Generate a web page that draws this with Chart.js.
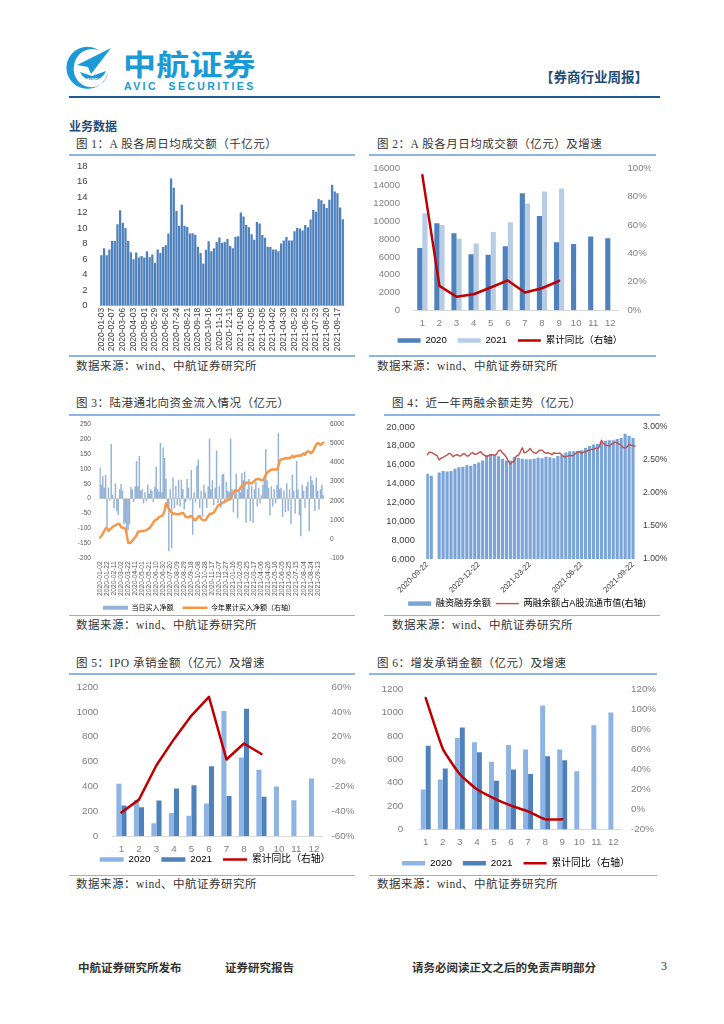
<!DOCTYPE html>
<html lang="zh">
<head>
<meta charset="utf-8">
<title>券商行业周报</title>
<style>
  html, body { margin: 0; padding: 0; background: #fff; }
  #page { position: relative; width: 724px; height: 1024px; overflow: hidden; background: #fff; }
  canvas { position: absolute; }
  .t { position: absolute; white-space: nowrap; line-height: 1; transform: translateY(-50%);
       font-family: 'Liberation Serif', 'Noto Sans CJK SC', serif; color: #333; }
  .title { font-size: 11.5px; letter-spacing: 0.5px; }
  .src { font-size: 11.5px; letter-spacing: 0.5px; }
  .foot { font-family: 'Noto Sans CJK SC', sans-serif; font-weight: 700; font-size: 11.5px; color: #333; }
  .rule { position: absolute; height: 1.5px; background: #8db4e2; }
</style>
</head>
<body>
<div id="page">
  <svg style="position:absolute;left:66px;top:46px" width="48" height="46" viewBox="66 46 48 46">
    <path fill="#1a9ad6" d="M100 51 A21 21 0 1 0 108 72 A17 17 0 0 1 76 78 A17 17 0 0 1 74 66 A18 18 0 0 1 100 51 Z"/>
    <path fill="#1a9ad6" d="M111 48 L77 65 L88 67 L91 74 Z"/>
    <path fill="#1a9ad6" d="M80 72 A14 14 0 0 0 106 71 L92 76 Z"/>
    <text x="92" y="82" text-anchor="middle" font-family="Liberation Sans" font-size="5" font-weight="700" fill="#fff">AVIC</text>
  </svg>
  <div class="t" style="left:123px;top:64px;font-family:'Noto Sans CJK SC';font-weight:700;font-size:33px;color:#1a9ad6;letter-spacing:0.2px;transform:translateY(-50%) scaleY(0.88)">中航证券</div>
  <div class="t" style="left:124px;top:86px;font-family:'Liberation Sans';font-weight:700;font-size:10.5px;color:#1a9ad6;letter-spacing:2.4px">AVIC&nbsp; SECURITIES</div>
  <div class="t" style="left:540px;top:77px;font-family:'Noto Sans CJK SC';font-weight:700;font-size:13.5px;color:#1f4e79">【券商行业周报】</div>
  <div style="position:absolute;left:69px;top:96px;width:591px;height:1.5px;background:#1f5a96"></div>
  <div class="t" style="left:69px;top:126px;font-family:'Noto Sans CJK SC';font-weight:700;font-size:12px;color:#1f4e79">业务数据</div>

  <div class="t title" style="left:76px;top:145px">图 1：A 股各周日均成交额（千亿元）</div>
  <div class="rule" style="left:69px;top:154px;width:286px"></div>
  <div class="rule" style="left:69px;top:355px;width:286px"></div>
  <div class="t src" style="left:76px;top:366.5px">数据来源：wind、中航证券研究所</div>

  <div class="t title" style="left:377px;top:145px">图 2：A 股各月日均成交额（亿元）及增速</div>
  <div class="rule" style="left:369px;top:154px;width:287px"></div>
  <div class="rule" style="left:369px;top:355px;width:287px"></div>
  <div class="t src" style="left:377px;top:366.5px">数据来源：wind、中航证券研究所</div>

  <div class="t title" style="left:76px;top:404px">图 3：陆港通北向资金流入情况（亿元）</div>
  <div class="rule" style="left:69px;top:414px;width:286px"></div>
  <div class="rule" style="left:69px;top:614.5px;width:286px"></div>
  <div class="t src" style="left:76px;top:625.5px">数据来源：wind、中航证券研究所</div>

  <div class="t title" style="left:392px;top:404px">图 4：近一年两融余额走势（亿元）</div>
  <div class="rule" style="left:384px;top:414px;width:276px"></div>
  <div class="rule" style="left:384px;top:614.5px;width:276px"></div>
  <div class="t src" style="left:392px;top:625.5px">数据来源：wind、中航证券研究所</div>

  <div class="t title" style="left:76px;top:664px">图 5：IPO 承销金额（亿元）及增速</div>
  <div class="rule" style="left:69px;top:673px;width:286px"></div>
  <div class="rule" style="left:69px;top:874.5px;width:286px"></div>
  <div class="t src" style="left:76px;top:885px">数据来源：wind、中航证券研究所</div>

  <div class="t title" style="left:377px;top:664px">图 6：增发承销金额（亿元）及增速</div>
  <div class="rule" style="left:369px;top:673px;width:288px"></div>
  <div class="rule" style="left:369px;top:874.5px;width:288px"></div>
  <div class="t src" style="left:377px;top:885px">数据来源：wind、中航证券研究所</div>

  <div class="t foot" style="left:78px;top:968px">中航证券研究所发布</div>
  <div class="t foot" style="left:225px;top:968px">证券研究报告</div>
  <div class="t foot" style="left:412px;top:968px">请务必阅读正文之后的免责声明部分</div>
  <div class="t" style="left:661px;top:966px;font-size:12px">3</div>

  <canvas id="c1"></canvas><canvas id="c2"></canvas><canvas id="c3"></canvas>
  <canvas id="c4"></canvas><canvas id="c5"></canvas><canvas id="c6"></canvas>
</div>

<script src="https://cdn.jsdelivr.net/npm/chart.js@4/dist/chart.umd.min.js"></script>
<script>
// --- Chart data ---
const months = ['1', '2', '3', '4', '5', '6', '7', '8', '9', '10', '11', '12'];

const weeklyTicks = ['2020-01-03', '2020-02-07', '2020-03-06', '2020-04-03', '2020-05-01', '2020-05-29',
    '2020-06-26', '2020-07-24', '2020-08-21', '2020-09-18', '2020-10-16', '2020-11-13', '2020-12-11',
    '2021-01-08', '2021-02-05', '2021-03-05', '2021-04-02', '2021-04-30', '2021-05-28', '2021-06-25',
    '2021-07-23', '2021-08-20', '2021-09-17'];
const weeklyTurnover = [6.5, 7.4, 6.5, 7.25, 8.35, 8.35, 10.5, 12.3, 10.7, 10, 8.35, 6.9, 6.0, 6.85, 6.2, 6.4,
    6.2, 7.0, 6.25, 6.6, 5.5, 7.25, 6.8, 7.55, 7.8, 9.3, 16.4, 15.2, 12.2, 10.3, 13, 10.3, 10.15, 9.3, 9.35,
    9.15, 7.6, 6.8, 5.45, 7.2, 8.3, 7.0, 7.4, 8.2, 8.8, 8.1, 8.2, 8.6, 7.7, 7.4, 8.85, 8.95, 12.0, 11.5, 10.4,
    10.1, 9.2, 8.5, 10.8, 10.6, 9.1, 8.75, 7.6, 7.55, 7.25, 7.25, 7.0, 8.0, 8.4, 8.85, 8.4, 8.4, 9.6, 10.0,
    9.95, 9.7, 10.4, 10.1, 11.1, 12.35, 12.1, 13.75, 13.6, 13.1, 12.6, 13.65, 15.6, 14.7, 14.5, 12.65, 11.15];

const monthly2020 = [7000, 9800, 8650, 6300, 6250, 7200, 13150, 10600, 7650, 7450, 8300, 8100];
const monthly2021 = [10900, 9600, 8050, 7500, 8800, 9900, 12000, 13350, 13700];
const monthlyGrowth = [95, 17.2, 9.5, 11.3, 16, 21, 12.5, 15.5, 20.7];

const northboundTicks = ['2020-01-02', '2020-01-22', '2020-02-11', '2020-03-02', '2020-03-22', '2020-04-11',
    '2020-05-01', '2020-05-21', '2020-06-10', '2020-06-30', '2020-07-20', '2020-08-09', '2020-08-29',
    '2020-09-18', '2020-10-08', '2020-10-28', '2020-11-17', '2020-12-07', '2020-12-27', '2021-01-16',
    '2021-02-05', '2021-02-25', '2021-03-17', '2021-04-06', '2021-04-26', '2021-05-16', '2021-06-05',
    '2021-06-25', '2021-07-15', '2021-08-04', '2021-08-24', '2021-09-13'];
const northboundDaily = [103, 45, 75, 35, 78, -100, 36, -5, 182, 12, -30, 50, -40, -55, 30, 48, 25, -85, -80, -115,
    -105, -85, 38, 30, -10, 40, 125, 40, 142, 25, 30, -15, 20, -8, 46, 15, 30, 25, -10, 38,
    105, 30, 22, 185, 20, 170, 135, 65, -20, -175, 30, -165, 70, -30, 42, -20, 62, -25, 62, 30,
    -35, -10, 65, 35, -5, 95, -120, 20, -12, 110, 130, -30, 25, -60, 45, 20, -30, 40, 200, 30,
    60, -20, 35, 160, -15, 40, -30, 80, 82, -15, 55, 25, 20, 200, 30, -45, 20, 82, -65, 25,
    20, 85, 60, 90, -80, 30, 65, -75, 40, -80, 30, 55, -25, 35, -15, 10, 45, 60, 165, 60,
    35, -55, 40, -25, 30, -15, 45, 218, 30, 35, -60, 25, -45, 50, -40, 30, -85, 80, 25, -50,
    125, 30, -55, -125, 45, 25, -30, 40, 55, -108, 75, 60, 45, -40, 70, 25, -35, 30, 45, 10];
const northboundTotal = [80, 150, 290, 420, 560, 580, 430, 500, 560, 640, 690, 720, 760, 800, 780, 620, 590, 600, 540, 260,
    -190, -210, -170, -80, 10, 90, 200, 385, 400, 410, 420, 435, 440, 470, 520, 560, 640, 750, 880, 985,
    1020, 1050, 1150, 1180, 1220, 1280, 1500, 1870, 1700, 1580, 1480, 1390, 1320, 1340, 1320, 1290, 1310, 1300, 1370, 1370,
    1290, 1150, 1150, 1130, 1190, 1200, 1120, 1000, 985, 1080, 1170, 1200, 1060, 1000, 990, 985, 1080, 1200, 1320, 1300,
    1350, 1380, 1500, 1620, 1750, 1780, 1830, 1880, 1930, 1970, 2000, 2040, 2070, 2090, 2280, 2430, 2540, 2560, 2510, 2550,
    2680, 2770, 2800, 2850, 2930, 2950, 2950, 2910, 2900, 2970, 3040, 3110, 3130, 3150, 3100, 3070, 3060, 3180, 3350, 3460,
    3540, 3580, 3630, 3620, 3640, 3620, 3630, 3780, 4100, 4150, 4170, 4190, 4230, 4200, 4240, 4210, 4270, 4350, 4260, 4310,
    4350, 4330, 4370, 4340, 4410, 4460, 4400, 4540, 4570, 4560, 4480, 4520, 4640, 4780, 4940, 5010, 4970, 4920, 4960, 5030];

const marginTicks = ['2020-09-22', '2020-12-22', '2021-03-22', '2021-06-22', '2021-09-22'];
const marginBalance = [15000, 14800, null, 15150, 15300, 15250, 15300, 15550, 15700, 15750, 15900, 15850, 16050, 16200,
    16400, 17000, 17100, 17000, 16850, 16600, 16400, 16400, 16800, 16700, 16600, 16550, 16550, 16600, 16700, 16650,
    16800, 16750, 16650, 16900, 17000, 17250, 17400, 17400, 17450, 17500, 17750, 17950, 18100, 18150, 18350, 18500,
    18550, 18550, 18700, 18800, 19250, 19050, 18800];
const marginShare = [2.58, 2.62, 2.615, 2.6, 2.58, 2.565, 2.5, 2.53, 2.54, 2.56, 2.575, 2.6, 2.59, 2.55, 2.57, 2.58,
    2.565, 2.56, 2.59, 2.59, 2.56, 2.565, 2.6, 2.61, 2.585, 2.59, 2.61, 2.625, 2.59, 2.57, 2.55, 2.565, 2.58, 2.58,
    2.57, 2.59, 2.64, 2.65, 2.61, 2.58, 2.54, 2.48, 2.44, 2.47, 2.48, 2.56, 2.57, 2.62, 2.685, 2.61, 2.62, 2.64,
    2.675, 2.63, 2.61, 2.6, 2.63, 2.65, 2.65, 2.62, 2.6, 2.61, 2.6, 2.58, 2.61, 2.6, 2.6, 2.605, 2.58, 2.55, 2.55,
    2.56, 2.57, 2.565, 2.57, 2.6, 2.62, 2.625, 2.6, 2.62, 2.625, 2.64, 2.65, 2.66, 2.66, 2.68, 2.675, 2.7, 2.8,
    2.75, 2.73, 2.72, 2.71, 2.74, 2.75, 2.77, 2.76, 2.74, 2.72, 2.69, 2.68, 2.7, 2.74, 2.72, 2.72, 2.71];

const ipo2020 = [420, 290, 102, 186, 164, 261, 1006, 632, 533, 398, 288, 463];
const ipo2021 = [245, 231, 285, 382, 409, 562, 323, 1025, 317];
const ipoGrowth = [-41, -30.7, -3, 18, 37, 52, 1.6, 14.5, 6];

const placement2020 = [341, 427, 782, 745, 579, 722, 682, 1060, 682, 496, 891, 1000];
const placement2021 = [716, 521, 871, 659, 415, 513, 473, 625, 590];
const placementGrowth = [111, 60.5, 35, 20, 11, 3.7, -2, -10, -10];

// --- Shared helpers ---
const FONT = "'Liberation Sans', 'Noto Sans CJK SC', sans-serif";
const BLUE = '#4f81bd';
const RED = '#c00000';

function percent(v) { return v + '%'; }

// plot: page box of the axes; x0/x1/y1: page box of the canvas, y0 comes from the plot top
function makeChart(id, plot, datasets, labels, opts) {
    const canvas = document.getElementById(id);
    const legend = opts.legend;
    // y tick padding also counts as overhang above the plot, so leave room for it
    const y0 = plot.t - 30;
    const y1 = legend ? legend.y + 30 : plot.y1;
    const height = y1 - y0;
    const legendHeight = legend ? legend.padding * 2 + legend.size : 0;

    canvas.width = plot.x1 - plot.x0;
    canvas.height = height;
    canvas.style.left = plot.x0 + 'px';
    canvas.style.top = y0 + 'px';
    canvas.style.width = canvas.width + 'px';
    canvas.style.height = canvas.height + 'px';

    const scales = {
        x: {
            grid: { display: false, drawTicks: false },
            border: { display: !!opts.xBorder, color: opts.xBorder || '#d9d9d9' },
            ticks: Object.assign({
                autoSkip: false, maxRotation: 0, minRotation: 0, padding: 0,
                color: opts.color, font: { family: FONT, size: opts.xSize || opts.size }
            }, opts.xTicks || {}),
            afterFit: (s) => { s.height = height - 30 - (plot.b - plot.t) - legendHeight; }
        },
        y: {
            position: 'left', min: opts.left.min, max: opts.left.max,
            grid: opts.zeroLine
                ? { drawTicks: false, color: (c) => (c.tick.value === 0 ? opts.zeroLine : 'transparent') }
                : { display: false, drawTicks: false },
            border: { display: false },
            ticks: {
                stepSize: opts.left.step, padding: plot.l - opts.left.labelEdge,
                color: opts.color, font: { family: FONT, size: opts.size },
                callback: opts.left.format || ((v) => v)
            },
            afterFit: (s) => { s.width = plot.l - plot.x0; }
        }
    };
    if (opts.right) {
        scales.y2 = {
            position: 'right', min: opts.right.min, max: opts.right.max,
            grid: { display: false, drawTicks: false }, border: { display: false },
            ticks: {
                stepSize: opts.right.step, padding: opts.right.labelEdge - plot.r,
                color: opts.color, font: { family: FONT, size: opts.rightSize || opts.size },
                callback: opts.right.format || ((v) => v)
            },
            afterFit: (s) => { s.width = plot.x1 - plot.r; }
        };
    }

    // the legend keeps its wide item gaps but sits higher than its box would
    const placeLegend = {
        id: 'placeLegend',
        beforeDraw(chart) {
            if (legend) chart.legend.top = legend.y - y0 - legend.padding - legend.size / 2;
        }
    };

    return new Chart(canvas.getContext('2d'), {
        data: { labels: labels, datasets: datasets },
        plugins: [placeLegend],
        options: {
            responsive: false, animation: false,
            layout: { padding: { top: 30 } },
            scales: scales,
            plugins: {
                tooltip: { enabled: false },
                legend: legend ? {
                    position: 'bottom',
                    labels: {
                        usePointStyle: true, pointStyleWidth: legend.swatch, boxHeight: legend.box,
                        padding: legend.padding, color: opts.legendColor || opts.color,
                        font: { family: FONT, size: legend.size },
                        generateLabels: (chart) => chart.data.datasets.map((d, i) => ({
                            text: d.label, datasetIndex: i, fillStyle: d.backgroundColor,
                            strokeStyle: d.borderColor,
                            lineWidth: d.type === 'line' ? d.borderWidth : 0,
                            pointStyle: d.type === 'line' ? 'line' : 'rect'
                        }))
                    }
                } : { display: false }
            }
        }
    });
}

function barSet(label, data, color, extra) {
    return Object.assign({ type: 'bar', label: label, data: data, backgroundColor: color, borderWidth: 0, order: 2, yAxisID: 'y' }, extra || {});
}

function lineSet(label, data, color, width, extra) {
    return Object.assign({
        type: 'line', label: label, data: data, borderColor: color, backgroundColor: color,
        borderWidth: width, pointRadius: 0, tension: 0, order: 1, yAxisID: 'y2',
        borderCapStyle: 'round', borderJoinStyle: 'round'
    }, extra || {});
}

// --- Figure 1 ---
makeChart('c1', { x0: 69, x1: 355, y1: 354, l: 100, r: 340, t: 165.7, b: 305.7 },
    [barSet('A股各周日均成交额', weeklyTurnover, BLUE, { barPercentage: 0.85, categoryPercentage: 1 })],
    weeklyTurnover.map((v, i) => (i % 4 === 0 ? weeklyTicks[i / 4] : '')),
    {
        color: '#404040', size: 9.5, xSize: 8.5, xBorder: '#d9d9d9',
        xTicks: { maxRotation: 90, minRotation: 90, padding: 2 },
        left: { min: 0, max: 18, step: 2, labelEdge: 87.5 }
    });

// --- Figure 2 ---
makeChart('c2', { x0: 369, x1: 651, y1: 354, l: 413.8, r: 618.9, t: 168.3, b: 310 },
    [
        barSet('2020', monthly2020, BLUE, { barPercentage: 1, categoryPercentage: 0.6 }),
        barSet('2021', monthly2021, '#b8cce4', { barPercentage: 1, categoryPercentage: 0.6 }),
        lineSet('累计同比（右轴）', monthlyGrowth, RED, 2.5)
    ],
    months,
    {
        color: '#7f7f7f', size: 9.6, xBorder: '#d9d9d9', xTicks: { padding: 7 },
        legend: { y: 340.7, size: 9.6, padding: 11, swatch: 23, box: 4.5 },
        left: { min: 0, max: 16000, step: 2000, labelEdge: 400 },
        right: { min: 0, max: 100, step: 20, labelEdge: 627.5, format: percent }
    });

// --- Figure 3 ---
makeChart('c3', { x0: 54, x1: 344, y1: 600, l: 99.3, r: 324, t: 424, b: 560 },
    [
        barSet('当日买入净额', northboundDaily, 'rgba(79,129,189,0.6)', { barThickness: 0.8 }),
        lineSet('今年累计买入净额（右轴）', northboundTotal, '#f79646', 2.4)
    ],
    northboundDaily.map((v, i) => (i % 5 === 0 ? northboundTicks[i / 5] : '')),
    {
        color: '#595959', size: 6.6, xSize: 6.8, zeroLine: '#e8e4d4', legendColor: '#404040',
        xTicks: { maxRotation: 90, minRotation: 90, padding: 3 },
        legend: { y: 607.7, size: 7, padding: 9, swatch: 25, box: 4 },
        left: { min: -200, max: 250, step: 50, labelEdge: 91 },
        right: { min: -1000, max: 6000, step: 1000, labelEdge: 330 }
    });

// --- Figure 4 ---
makeChart('c4', { x0: 382, x1: 672, y1: 612, l: 426.3, r: 636, t: 426.7, b: 564.3 },
    [
        barSet('融资融券余额', marginBalance.flatMap((v) => [v, null]), '#7ba5d8', { barThickness: 2.5 }),
        lineSet('两融余额占A股流通市值(右轴)', marginShare, '#c0504d', 1.4)
    ],
    marginShare.map((v, i) => (i % 26 === 0 ? marginTicks[i / 26] : '')),
    {
        color: '#404040', size: 9.4, xSize: 7.8, rightSize: 8.6,
        xTicks: { maxRotation: 45, minRotation: 45, padding: 1 },
        legend: { y: 603.3, size: 9.2, padding: 5, swatch: 23, box: 4.5 },
        left: { min: 6000, max: 20000, step: 2000, labelEdge: 415, format: (v) => v.toLocaleString('en-US') },
        right: { min: 1, max: 3, step: 0.5, labelEdge: 643, format: (v) => v.toFixed(2) + '%' }
    });

// --- Figure 5 ---
makeChart('c5', { x0: 69, x1: 361, y1: 873, l: 112.7, r: 322.7, t: 686.7, b: 835.3 },
    [
        barSet('2020', ipo2020, '#8db4e2', { barPercentage: 1, categoryPercentage: 0.58 }),
        barSet('2021', ipo2021, BLUE, { barPercentage: 1, categoryPercentage: 0.58 }),
        lineSet('累计同比（右轴）', ipoGrowth, RED, 2.5)
    ],
    months,
    {
        color: '#7f7f7f', size: 9.8, xBorder: '#d9d9d9', xTicks: { padding: 7 },
        legend: { y: 859.3, size: 9.8, padding: 11, swatch: 24, box: 4.5 },
        left: { min: 0, max: 1200, step: 200, labelEdge: 98.3 },
        right: { min: -60, max: 60, step: 20, labelEdge: 331.5, format: percent }
    });

// --- Figure 6 ---
makeChart('c6', { x0: 372, x1: 660, y1: 873, l: 417.2, r: 621.9, t: 689, b: 828.7 },
    [
        barSet('2020', placement2020, '#8db4e2', { barPercentage: 1, categoryPercentage: 0.58 }),
        barSet('2021', placement2021, BLUE, { barPercentage: 1, categoryPercentage: 0.58 }),
        lineSet('累计同比（右轴）', placementGrowth, RED, 2.5, { tension: 0.15 })
    ],
    months,
    {
        color: '#7f7f7f', size: 9.8, xBorder: '#d9d9d9', xTicks: { padding: 7 },
        legend: { y: 863.3, size: 9.8, padding: 11, swatch: 23, box: 4.5 },
        left: { min: 0, max: 1200, step: 200, labelEdge: 403.3 },
        right: { min: -20, max: 120, step: 20, labelEdge: 631, format: percent }
    });
</script>
</body>
</html>
